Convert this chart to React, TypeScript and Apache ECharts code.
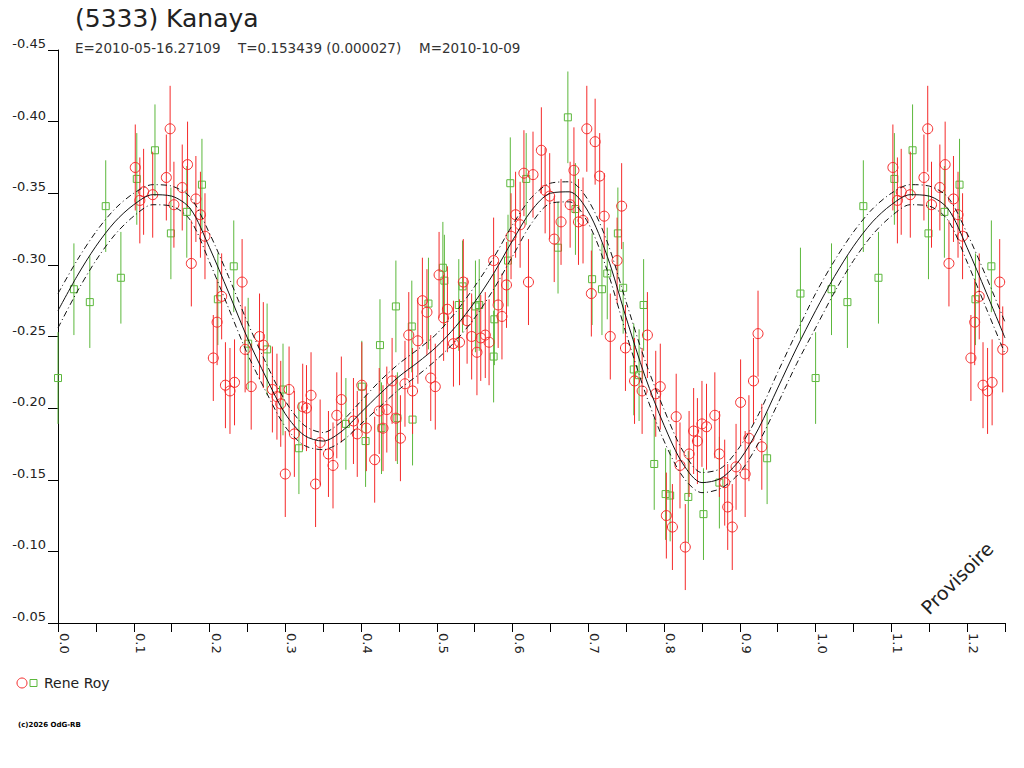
import React, { useEffect, useRef } from "react";
import * as echarts from "echarts";

// ---- Data (phase, reduced magnitude) ----
const RED_POINTS: [number, number][] = [
  [0.102, -0.368], [0.108, -0.345], [0.113, -0.351], [0.125, -0.349], [0.143, -0.361], [0.148, -0.395],
  [0.153, -0.342], [0.164, -0.354], [0.171, -0.370], [0.176, -0.301], [0.182, -0.346], [0.188, -0.335],
  [0.194, -0.320], [0.205, -0.235], [0.210, -0.260], [0.216, -0.278], [0.221, -0.216], [0.227, -0.212],
  [0.233, -0.218], [0.243, -0.288], [0.247, -0.241],
  [0.255, -0.215], [0.266, -0.250], [0.271, -0.244], [0.283, -0.213], [0.289, -0.208], [0.294, -0.203],
  [0.300, -0.154], [0.305, -0.213], [0.312, -0.182], [0.323, -0.201], [0.328, -0.200], [0.334, -0.209],
  [0.340, -0.147], [0.346, -0.176], [0.357, -0.168], [0.363, -0.160], [0.368, -0.195], [0.374, -0.206],
  [0.390, -0.191], [0.395, -0.182], [0.401, -0.216], [0.407, -0.186], [0.418, -0.164], [0.424, -0.198],
  [0.429, -0.186], [0.434, -0.199], [0.441, -0.219], [0.446, -0.193], [0.452, -0.179], [0.458, -0.217],
  [0.463, -0.251], [0.468, -0.212], [0.475, -0.247], [0.481, -0.275], [0.487, -0.267], [0.492, -0.221],
  [0.498, -0.215],
  [0.503, -0.293], [0.509, -0.263], [0.514, -0.269], [0.522, -0.245], [0.530, -0.246], [0.535, -0.288],
  [0.540, -0.261], [0.546, -0.250], [0.553, -0.239], [0.558, -0.249], [0.564, -0.251], [0.569, -0.246],
  [0.575, -0.303], [0.581, -0.272], [0.586, -0.264], [0.592, -0.286], [0.598, -0.320], [0.604, -0.335],
  [0.610, -0.328], [0.615, -0.364], [0.621, -0.288], [0.627, -0.363], [0.638, -0.380], [0.643, -0.352],
  [0.649, -0.348], [0.655, -0.318], [0.664, -0.330], [0.676, -0.342], [0.681, -0.366], [0.687, -0.330],
  [0.693, -0.331], [0.698, -0.395], [0.704, -0.280], [0.709, -0.386], [0.715, -0.362], [0.721, -0.334],
  [0.729, -0.250], [0.738, -0.303], [0.744, -0.341], [0.749, -0.242],
  [0.761, -0.219], [0.771, -0.212], [0.778, -0.251], [0.789, -0.210], [0.795, -0.215], [0.803, -0.125],
  [0.811, -0.117], [0.816, -0.194], [0.821, -0.160], [0.828, -0.103], [0.833, -0.168], [0.839, -0.184],
  [0.844, -0.177], [0.850, -0.189], [0.856, -0.187], [0.867, -0.195], [0.873, -0.168], [0.880, -0.148],
  [0.884, -0.131], [0.890, -0.117], [0.895, -0.159], [0.901, -0.204], [0.907, -0.154], [0.912, -0.179],
  [0.918, -0.219], [0.924, -0.252], [0.929, -0.173],
];

const GREEN_POINTS: [number, number][] = [
  [0.000, -0.221], [0.021, -0.283], [0.042, -0.274], [0.063, -0.341], [0.083, -0.291], [0.104, -0.360],
  [0.128, -0.380], [0.149, -0.322], [0.170, -0.337], [0.190, -0.356], [0.211, -0.276], [0.232, -0.299],
  [0.251, -0.245], [0.276, -0.241], [0.297, -0.213], [0.318, -0.172], [0.380, -0.189], [0.401, -0.215],
  [0.406, -0.177], [0.425, -0.244], [0.427, -0.186], [0.446, -0.271], [0.448, -0.193], [0.467, -0.257],
  [0.468, -0.192], [0.489, -0.273], [0.508, -0.298], [0.510, -0.289], [0.529, -0.272], [0.534, -0.285],
  [0.551, -0.271], [0.556, -0.272], [0.575, -0.236], [0.576, -0.262], [0.594, -0.303], [0.597, -0.357],
  [0.618, -0.360], [0.660, -0.312], [0.673, -0.403], [0.683, -0.339], [0.705, -0.290], [0.718, -0.283],
  [0.725, -0.294], [0.739, -0.322], [0.746, -0.284], [0.760, -0.227], [0.767, -0.223], [0.773, -0.272],
  [0.787, -0.161], [0.802, -0.140], [0.808, -0.139], [0.832, -0.138], [0.852, -0.126], [0.873, -0.148],
  [0.936, -0.165], [0.980, -0.280],
];

const RED_ERR = 0.030;
const GREEN_ERR = 0.032;

const CURVE_PHASES = [
  0.000, 0.025, 0.050, 0.075, 0.100, 0.125, 0.150, 0.175, 0.200, 0.225, 0.250, 0.275, 0.300, 0.325,
  0.350, 0.375, 0.400, 0.425, 0.450, 0.475, 0.500, 0.525, 0.550, 0.575, 0.600, 0.625, 0.650, 0.675,
  0.700, 0.725, 0.750, 0.775, 0.800, 0.825, 0.850, 0.875, 0.900, 0.925, 0.950, 0.975, 1.000,
];
const FIT = [
  -0.268, -0.292, -0.313, -0.330, -0.342, -0.349, -0.348, -0.339, -0.312, -0.281, -0.249, -0.221, -0.196, -0.181,
  -0.177, -0.184, -0.197, -0.210, -0.222, -0.232, -0.243, -0.257, -0.274, -0.294, -0.317, -0.338, -0.350, -0.351,
  -0.337, -0.306, -0.263, -0.222, -0.188, -0.161, -0.148, -0.151, -0.164, -0.186, -0.214, -0.242, -0.268,
];
const FIT_UPPER = [
  -0.280, -0.303, -0.323, -0.339, -0.350, -0.356, -0.355, -0.347, -0.322, -0.292, -0.260, -0.231, -0.205, -0.188,
  -0.183, -0.191, -0.205, -0.219, -0.231, -0.241, -0.252, -0.267, -0.285, -0.305, -0.328, -0.347, -0.357, -0.358,
  -0.345, -0.316, -0.274, -0.233, -0.199, -0.170, -0.155, -0.158, -0.173, -0.196, -0.225, -0.253, -0.280,
];
const FIT_LOWER = [
  -0.256, -0.281, -0.303, -0.321, -0.334, -0.342, -0.341, -0.331, -0.302, -0.270, -0.238, -0.211, -0.187, -0.174,
  -0.171, -0.177, -0.189, -0.201, -0.213, -0.223, -0.234, -0.247, -0.263, -0.283, -0.306, -0.329, -0.343, -0.344,
  -0.329, -0.296, -0.252, -0.211, -0.177, -0.152, -0.141, -0.144, -0.155, -0.176, -0.203, -0.231, -0.256,
];

const TITLE = "(5333) Kanaya";
const SUB_E = "E=2010-05-16.27109";
const SUB_T = "T=0.153439 (0.000027)";
const SUB_M = "M=2010-10-09";
const OBSERVER = "Rene Roy";
const COPYRIGHT = "(c)2026 OdG-RB";
const STAMP = "Provisoire";

const PHASE_MAX = 1.25;
const RED = "#f52a2a";
const GREEN = "#5cb83c";
const FONT = "DejaVu Sans";

// repeat the start of the cycle beyond phase 1
function extendPoints(pts: [number, number][]): [number, number][] {
  const out = pts.slice();
  pts.forEach(([p, m]) => {
    if (p + 1 <= PHASE_MAX + 1e-9) out.push([p + 1, m]);
  });
  return out;
}
function extendCurve(vals: number[]): [number, number][] {
  const out: [number, number][] = CURVE_PHASES.map((p, i) => [p, vals[i]]);
  CURVE_PHASES.forEach((p, i) => {
    if (p > 0 && p + 1 <= PHASE_MAX + 1e-9) out.push([p + 1, vals[i]]);
  });
  return out;
}

function obsSeries(name: string, pts: [number, number][], err: number, color: string, shape: "circle" | "rect") {
  return {
    type: "custom",
    name,
    data: extendPoints(pts),
    encode: { x: 0, y: 1 },
    z: 2,
    renderItem: (_params: any, api: any) => {
      const x = api.value(0);
      const y = api.value(1);
      const a = api.coord([x, y - err]);
      const b = api.coord([x, y + err]);
      const c = api.coord([x, y]);
      const marker =
        shape === "circle"
          ? { type: "circle", shape: { cx: c[0], cy: c[1], r: 5 }, style: { fill: "none", stroke: color, lineWidth: 1 } }
          : { type: "rect", shape: { x: c[0] - 3.5, y: c[1] - 3.5, width: 7, height: 7 }, style: { fill: "none", stroke: color, lineWidth: 1 } };
      return {
        type: "group",
        children: [
          { type: "line", shape: { x1: a[0], y1: a[1], x2: b[0], y2: b[1] }, style: { stroke: color, lineWidth: 1 } },
          marker,
        ],
      };
    },
  };
}

function curveSeries(vals: number[], dashed: boolean) {
  return {
    type: "line",
    data: extendCurve(vals),
    showSymbol: false,
    symbol: "none",
    smooth: 0.3,
    z: 5,
    silent: true,
    lineStyle: { color: "#111", width: 1, type: dashed ? [6, 3, 1, 3] : "solid" },
  };
}

export default function App() {
  const ref = useRef<HTMLDivElement>(null);
  useEffect(() => {
    if (!ref.current) return;
    const chart = echarts.init(ref.current, undefined, { renderer: "svg" });
    const option: any = {
      animation: false,
      backgroundColor: "#fff",
      textStyle: { fontFamily: FONT },
      grid: { left: 58, right: 19, top: 50, bottom: 145, containLabel: false },
      xAxis: {
        type: "value",
        min: 0,
        max: PHASE_MAX,
        interval: 0.05,
        splitLine: { show: false },
        axisLine: { onZero: false, lineStyle: { color: "#000", width: 1 } },
        axisTick: { length: 9, lineStyle: { color: "#000", width: 1 } },
        axisLabel: {
          formatter: (v: number) => (Math.round(v * 100) % 10 === 0 ? v.toFixed(1) : ""),
          rotate: -90,
          align: "left",
          verticalAlign: "bottom",
          margin: 10,
          fontSize: 13,
          color: "#222",
          fontFamily: FONT,
        },
      },
      yAxis: {
        type: "value",
        inverse: true,
        min: -0.45,
        max: -0.05,
        interval: 0.05,
        splitLine: { show: false },
        axisLine: { show: true, onZero: false, lineStyle: { color: "#000", width: 1 } },
        axisTick: { show: true, length: 10, lineStyle: { color: "#000", width: 1 } },
        axisLabel: {
          formatter: (v: number) => v.toFixed(2),
          margin: 12,
          align: "right",
          verticalAlign: "bottom",
          fontSize: 13,
          color: "#222",
          fontFamily: FONT,
        },
      },
      series: [
        obsSeries("green", GREEN_POINTS, GREEN_ERR, GREEN, "rect"),
        obsSeries("red", RED_POINTS, RED_ERR, RED, "circle"),
        curveSeries(FIT_UPPER, true),
        curveSeries(FIT_LOWER, true),
        curveSeries(FIT, false),
      ],
      graphic: [
        { type: "text", left: 75, top: 6, style: { text: TITLE, font: `25px '${FONT}'`, fill: "#222" } },
        { type: "text", x: 75, y: 48, style: { text: SUB_E, font: `13.5px '${FONT}'`, fill: "#333", verticalAlign: "middle" } },
        { type: "text", x: 238, y: 48, style: { text: SUB_T, font: `13.5px '${FONT}'`, fill: "#333", verticalAlign: "middle" } },
        { type: "text", x: 419, y: 48, style: { text: SUB_M, font: `13.5px '${FONT}'`, fill: "#333", verticalAlign: "middle" } },
        { type: "circle", shape: { cx: 22, cy: 683, r: 5 }, style: { fill: "none", stroke: RED, lineWidth: 1 } },
        { type: "rect", shape: { x: 30, y: 679.5, width: 7, height: 7 }, style: { fill: "none", stroke: GREEN, lineWidth: 1 } },
        { type: "text", x: 44, y: 683, style: { text: OBSERVER, font: `14px '${FONT}'`, fill: "#222", verticalAlign: "middle" } },
        { type: "text", x: 18, y: 725, style: { text: COPYRIGHT, font: `bold 7px '${FONT}'`, fill: "#000", verticalAlign: "middle" } },
        {
          type: "text",
          x: 957,
          y: 578,
          rotation: Math.PI / 4,
          style: { text: STAMP, font: `19px '${FONT}'`, fill: "#222", align: "center", verticalAlign: "middle" },
        },
      ],
    };
    chart.setOption(option);
    return () => chart.dispose();
  }, []);
  return (
    <div
      ref={ref}
      style={{ position: "absolute", left: 0, top: 0, width: 1024, height: 768, background: "#fff" }}
    />
  );
}
